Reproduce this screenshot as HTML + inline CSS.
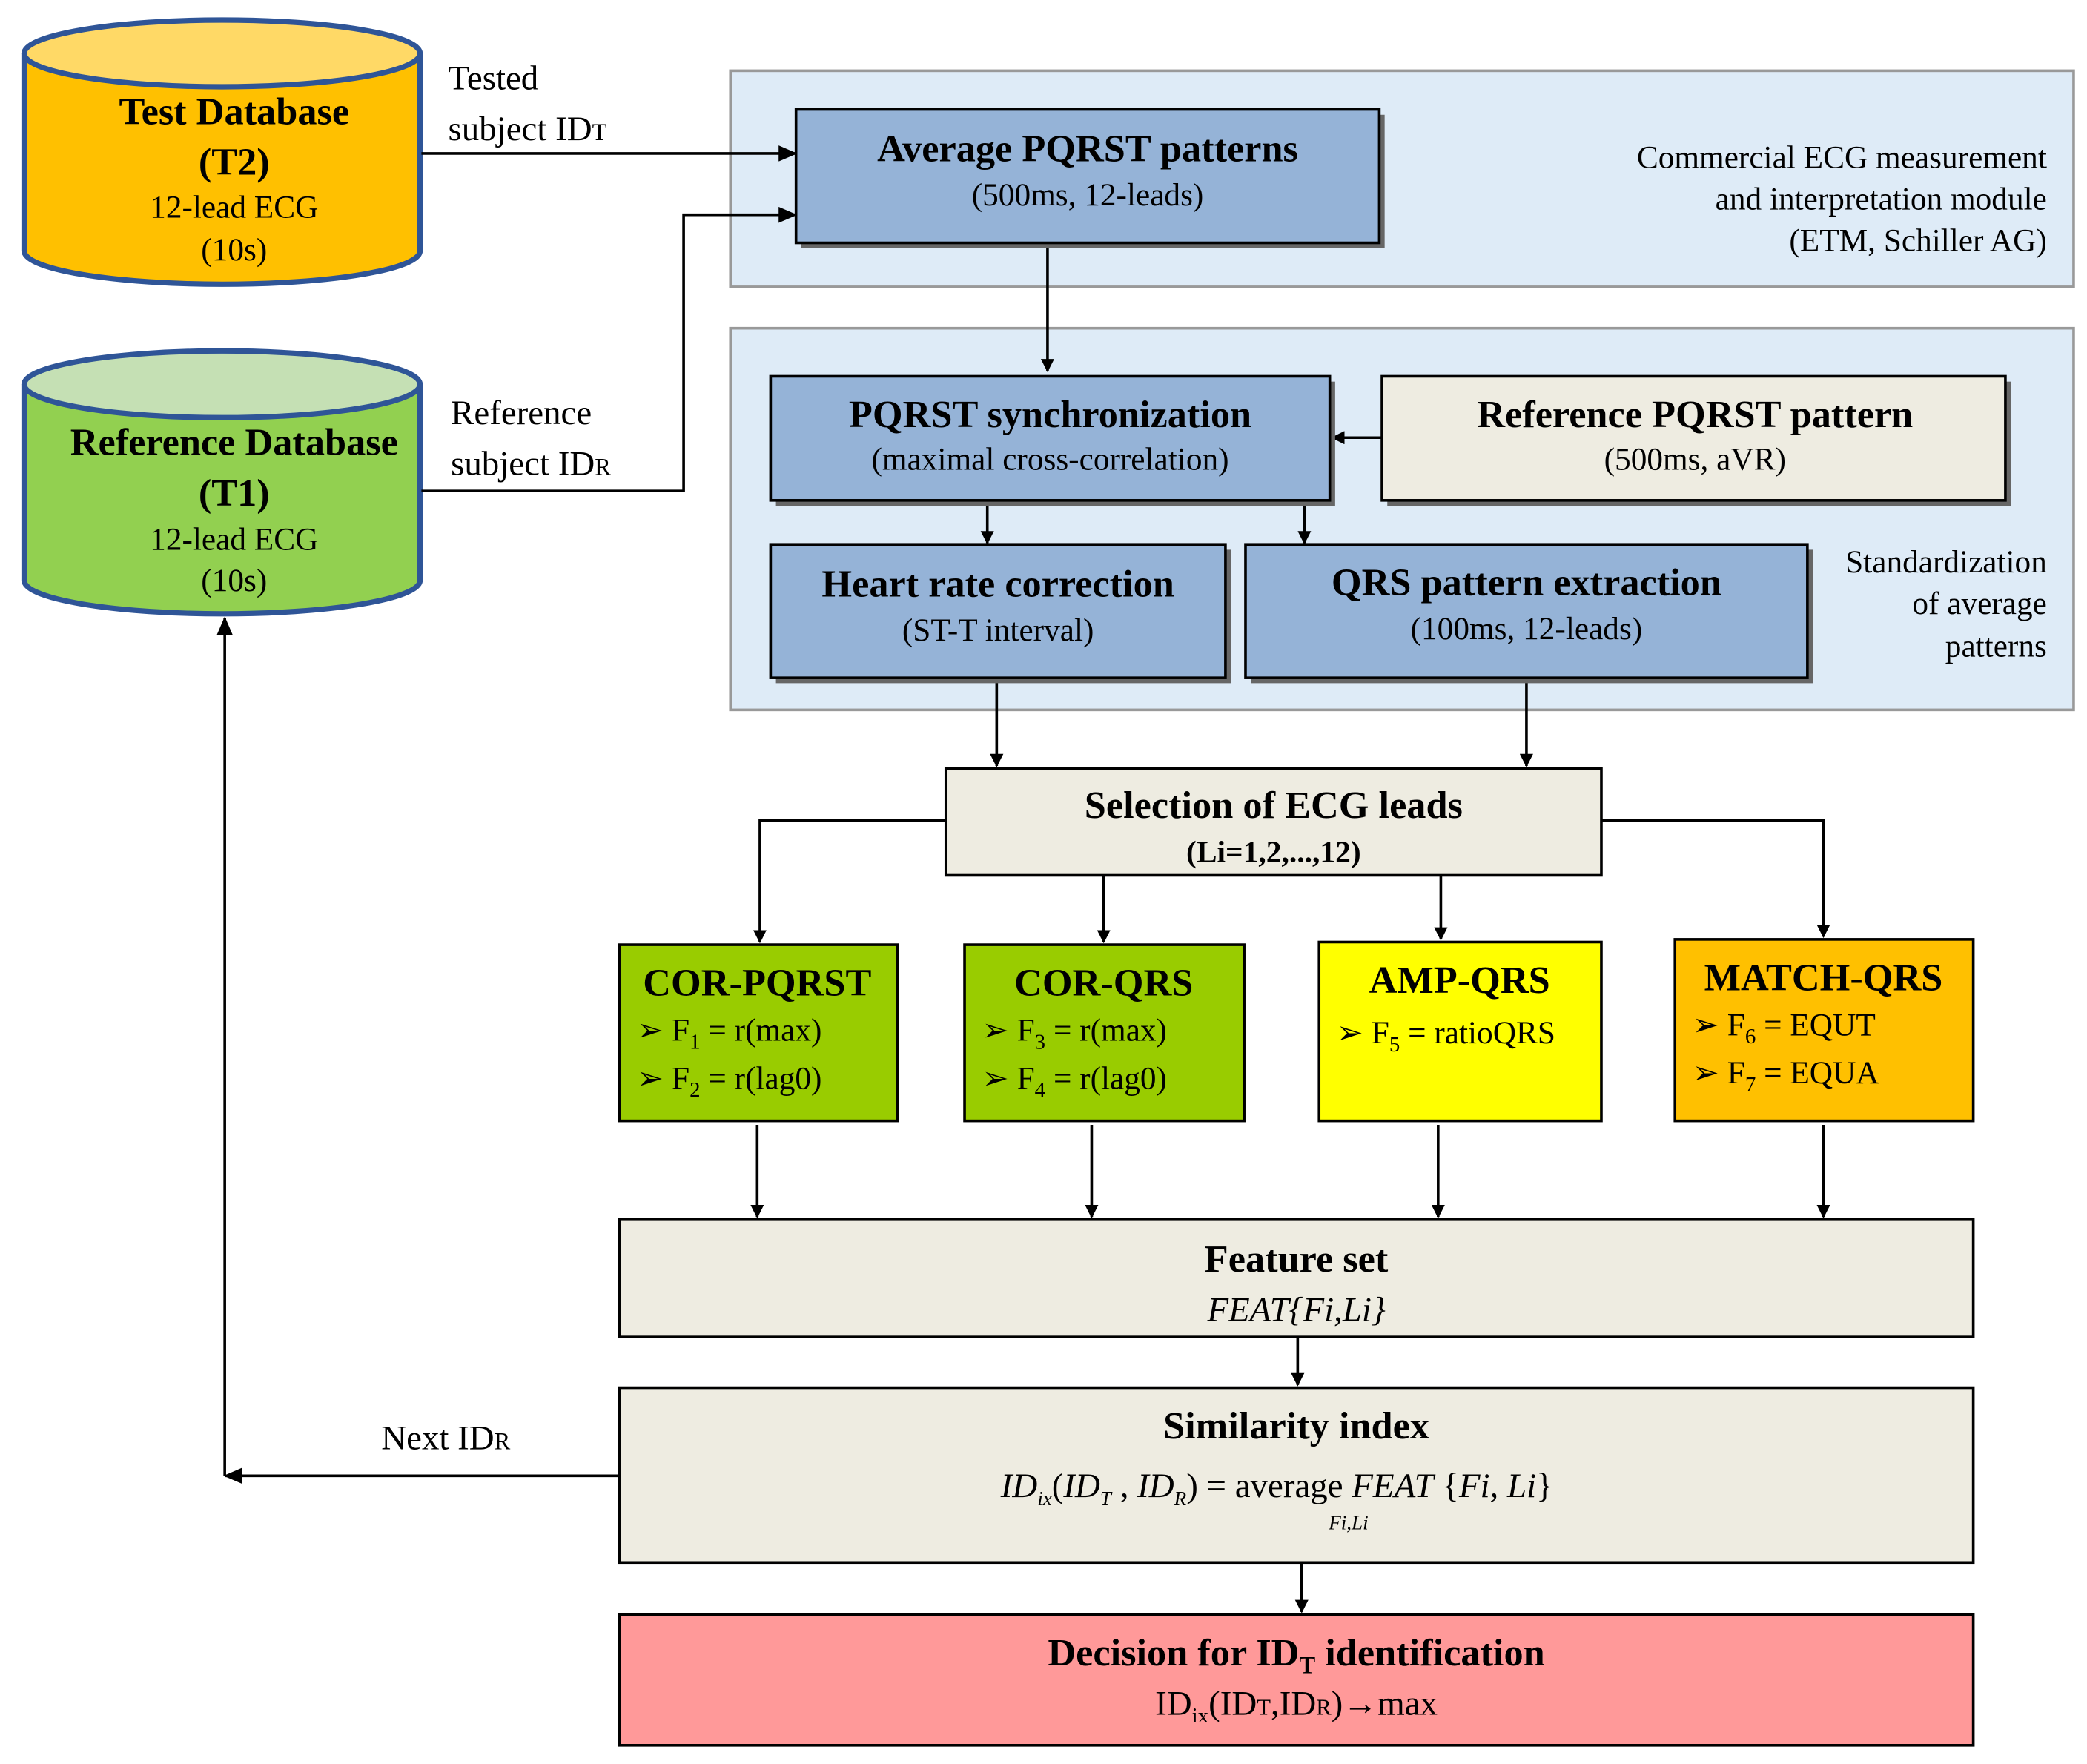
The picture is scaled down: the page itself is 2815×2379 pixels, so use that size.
<!DOCTYPE html>
<html><head><meta charset="utf-8"><style>
html,body{margin:0;padding:0;background:#fff}
svg{display:block}
text{font-family:"Liberation Serif",serif;fill:#000}
.t{font-weight:bold;font-size:29px}
.s{font-size:24px}
.n{font-size:26px}
</style></head><body>
<svg width="2815" height="2379" viewBox="0 0 1560 1322" preserveAspectRatio="none" xmlns="http://www.w3.org/2000/svg">
<defs>
<marker id="a" markerWidth="10" markerHeight="10" refX="9" refY="5" orient="auto" markerUnits="userSpaceOnUse"><path d="M0,0 L10,5 L0,10 Z" fill="#000"/></marker>
<marker id="b" markerWidth="14" markerHeight="12" refX="13" refY="6" orient="auto" markerUnits="userSpaceOnUse"><path d="M0,0 L14,6 L0,12 Z" fill="#000"/></marker>
</defs>
<!-- panels -->
<rect x="546" y="53" width="1004" height="162" fill="#DEEBF7" stroke="#999" stroke-width="2"/>
<rect x="546" y="246" width="1004" height="286" fill="#DEEBF7" stroke="#999" stroke-width="2"/>
<!-- cylinders -->
<path d="M18,40 L18,188 A148,25 0 0 0 314,188 L314,40" fill="#FFC000" stroke="#2F5597" stroke-width="4"/>
<ellipse cx="166" cy="40" rx="148" ry="25" fill="#FFD966" stroke="#2F5597" stroke-width="4"/>
<text class="t" x="175" y="93" text-anchor="middle">Test Database</text>
<text class="t" x="175" y="131" text-anchor="middle">(T2)</text>
<text class="s" x="175" y="163" text-anchor="middle">12-lead ECG</text>
<text class="s" x="175" y="195" text-anchor="middle">(10s)</text>
<path d="M18,288 L18,435 A148,25 0 0 0 314,435 L314,288" fill="#92D050" stroke="#2F5597" stroke-width="4"/>
<ellipse cx="166" cy="288" rx="148" ry="25" fill="#C5E0B4" stroke="#2F5597" stroke-width="4"/>
<text class="t" x="175" y="341" text-anchor="middle">Reference Database</text>
<text class="t" x="175" y="379" text-anchor="middle">(T1)</text>
<text class="s" x="175" y="412" text-anchor="middle">12-lead ECG</text>
<text class="s" x="175" y="443" text-anchor="middle">(10s)</text>
<!-- side labels -->
<text class="n" x="335" y="67">Tested</text>
<text class="n" x="335" y="105">subject ID<tspan font-size="18">T</tspan></text>
<text class="n" x="337" y="318">Reference</text>
<text class="n" x="337" y="356">subject ID<tspan font-size="18">R</tspan></text>
<text class="n" x="285" y="1086">Next ID<tspan font-size="18">R</tspan></text>
<text class="s" x="1530" y="126" text-anchor="end">Commercial ECG measurement</text>
<text class="s" x="1530" y="157" text-anchor="end">and interpretation module</text>
<text class="s" x="1530" y="188" text-anchor="end">(ETM, Schiller AG)</text>
<text class="s" x="1530" y="429" text-anchor="end">Standardization</text>
<text class="s" x="1530" y="460" text-anchor="end">of average</text>
<text class="s" x="1530" y="492" text-anchor="end">patterns</text>
<!-- connectors -->
<g stroke="#000" stroke-width="2" fill="none">
<path d="M315,115 L595,115" marker-end="url(#b)"/>
<path d="M315,368 L511,368 L511,161 L595,161" marker-end="url(#b)"/>
<path d="M783,182 L783,278" marker-end="url(#a)"/>
<path d="M1033,328 L996,328" marker-end="url(#a)"/>
<path d="M738,375 L738,407" marker-end="url(#a)"/>
<path d="M975,375 L975,407" marker-end="url(#a)"/>
<path d="M745,508 L745,574" marker-end="url(#a)"/>
<path d="M1141,508 L1141,574" marker-end="url(#a)"/>
<path d="M707,615 L568,615 L568,706" marker-end="url(#a)"/>
<path d="M825,656 L825,706" marker-end="url(#a)"/>
<path d="M1077,656 L1077,704" marker-end="url(#a)"/>
<path d="M1197,615 L1363,615 L1363,702" marker-end="url(#a)"/>
<path d="M566,843 L566,912" marker-end="url(#a)"/>
<path d="M816,843 L816,912" marker-end="url(#a)"/>
<path d="M1075,843 L1075,912" marker-end="url(#a)"/>
<path d="M1363,843 L1363,912" marker-end="url(#a)"/>
<path d="M970,1002 L970,1038" marker-end="url(#a)"/>
<path d="M973,1171 L973,1208" marker-end="url(#a)"/>
<path d="M463,1106 L168,1106" marker-end="url(#b)"/>
<path d="M168,1106 L168,463" marker-end="url(#b)"/>
</g>
<!-- boxes with shadows -->
<g fill="#666">
<rect x="599" y="86" width="436" height="100"/>
<rect x="580" y="286" width="418" height="93"/>
<rect x="1037" y="286" width="466" height="93"/>
<rect x="580" y="412" width="340" height="100"/>
<rect x="935" y="412" width="420" height="100"/>
</g>
<g stroke="#000" stroke-width="2">
<rect x="595" y="82" width="436" height="100" fill="#95B3D7"/>
<rect x="576" y="282" width="418" height="93" fill="#95B3D7"/>
<rect x="1033" y="282" width="466" height="93" fill="#EEECE1"/>
<rect x="576" y="408" width="340" height="100" fill="#95B3D7"/>
<rect x="931" y="408" width="420" height="100" fill="#95B3D7"/>
<rect x="707" y="576" width="490" height="80" fill="#EEECE1"/>
<rect x="463" y="708" width="208" height="132" fill="#99CC00"/>
<rect x="721" y="708" width="209" height="132" fill="#99CC00"/>
<rect x="986" y="706" width="211" height="134" fill="#FFFF00"/>
<rect x="1252" y="704" width="223" height="136" fill="#FFC000"/>
<rect x="463" y="914" width="1012" height="88" fill="#EEECE1"/>
<rect x="463" y="1040" width="1012" height="131" fill="#EEECE1"/>
<rect x="463" y="1210" width="1012" height="98" fill="#FF9999"/>
</g>
<text class="t" x="813" y="121" text-anchor="middle">Average PQRST patterns</text>
<text class="s" x="813" y="154" text-anchor="middle">(500ms, 12-leads)</text>
<text class="t" x="785" y="320" text-anchor="middle">PQRST synchronization</text>
<text class="s" x="785" y="352" text-anchor="middle">(maximal cross-correlation)</text>
<text class="t" x="1267" y="320" text-anchor="middle">Reference PQRST pattern</text>
<text class="s" x="1267" y="352" text-anchor="middle">(500ms, aVR)</text>
<text class="t" x="746" y="447" text-anchor="middle">Heart rate correction</text>
<text class="s" x="746" y="480" text-anchor="middle">(ST-T interval)</text>
<text class="t" x="1141" y="446" text-anchor="middle">QRS pattern extraction</text>
<text class="s" x="1141" y="479" text-anchor="middle">(100ms, 12-leads)</text>
<text class="t" x="952" y="613" text-anchor="middle">Selection of ECG leads</text>
<text x="952" y="646" text-anchor="middle" font-weight="bold" font-size="23">(Li=1,2,...,12)</text>
<text class="t" x="566" y="746" text-anchor="middle">COR-PQRST</text>
<text class="s" x="476" y="780">➢  F<tspan font-size="16" dy="6">1</tspan><tspan dy="-6"> = r(max)</tspan></text>
<text class="s" x="476" y="816">➢  F<tspan font-size="16" dy="6">2</tspan><tspan dy="-6"> = r(lag0)</tspan></text>
<text class="t" x="825" y="746" text-anchor="middle">COR-QRS</text>
<text class="s" x="734" y="780">➢  F<tspan font-size="16" dy="6">3</tspan><tspan dy="-6"> = r(max)</tspan></text>
<text class="s" x="734" y="816">➢  F<tspan font-size="16" dy="6">4</tspan><tspan dy="-6"> = r(lag0)</tspan></text>
<text class="t" x="1091" y="744" text-anchor="middle">AMP-QRS</text>
<text class="s" x="999" y="782">➢  F<tspan font-size="16" dy="6">5</tspan><tspan dy="-6"> = ratioQRS</tspan></text>
<text class="t" x="1363" y="742" text-anchor="middle">MATCH-QRS</text>
<text class="s" x="1265" y="776">➢  F<tspan font-size="16" dy="6">6</tspan><tspan dy="-6"> = EQUT</tspan></text>
<text class="s" x="1265" y="812">➢  F<tspan font-size="16" dy="6">7</tspan><tspan dy="-6"> = EQUA</tspan></text>
<text class="t" x="969" y="953" text-anchor="middle">Feature set</text>
<text class="n" x="969" y="990" text-anchor="middle" font-style="italic">FEAT{Fi,Li}</text>
<text class="t" x="969" y="1078" text-anchor="middle">Similarity index</text>
<text class="n" x="748" y="1122"><tspan font-style="italic">ID</tspan><tspan font-size="15" font-style="italic" dy="6">ix</tspan><tspan dy="-6">(</tspan><tspan font-style="italic">ID</tspan><tspan font-size="15" font-style="italic" dy="6">T</tspan><tspan dy="-6"> , </tspan><tspan font-style="italic">ID</tspan><tspan font-size="15" font-style="italic" dy="6">R</tspan><tspan dy="-6">) = average  </tspan><tspan font-style="italic">FEAT</tspan><tspan> {</tspan><tspan font-style="italic">Fi, Li</tspan><tspan>}</tspan></text>
<text x="1008" y="1146" text-anchor="middle" font-size="15" font-style="italic">Fi,Li</text>
<text class="t" x="969" y="1248" text-anchor="middle">Decision for ID<tspan font-size="18" dy="6">T</tspan><tspan dy="-6"> identification</tspan></text>
<text class="n" x="969" y="1285" text-anchor="middle">ID<tspan font-size="16" dy="6">ix</tspan><tspan dy="-6">(ID</tspan><tspan font-size="17">T</tspan><tspan>,ID</tspan><tspan font-size="17">R</tspan><tspan>)→max</tspan></text>
</svg>
</body></html>
